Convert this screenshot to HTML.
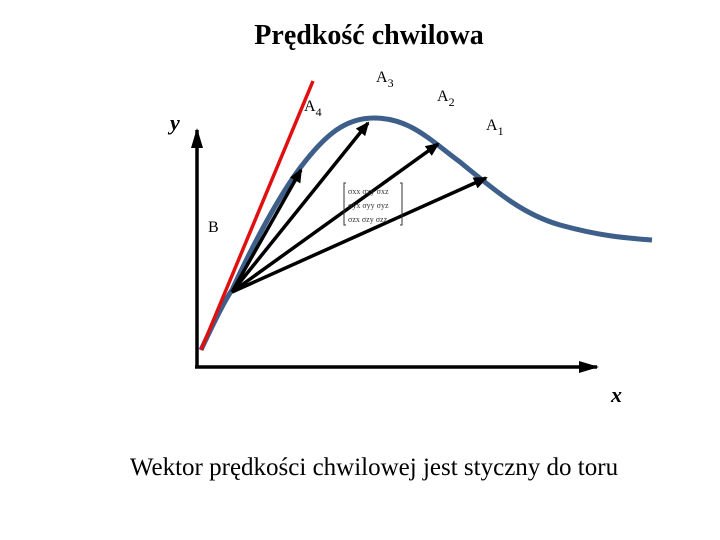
<!DOCTYPE html>
<html><head><meta charset="utf-8"><style>
body{margin:0;background:#fff;}
svg{display:block;font-family:"Liberation Serif",serif;}
</style></head><body>
<svg width="720" height="540" viewBox="0 0 720 540">
<defs>
<marker id="ah" markerWidth="14" markerHeight="12" refX="12" refY="6" orient="auto" markerUnits="userSpaceOnUse"><path d="M0,0 L14,6 L0,12 z" fill="#000"/></marker>
<marker id="ax" markerWidth="20" markerHeight="12" refX="18" refY="6" orient="auto" markerUnits="userSpaceOnUse"><path d="M0,0 L20,6 L0,12 z" fill="#000"/></marker>
</defs>
<text x="369" y="44" text-anchor="middle" font-size="28" font-weight="bold">Prędkość chwilowa</text>
<line x1="197" y1="367" x2="197" y2="130" stroke="#000" stroke-width="3.5" marker-end="url(#ax)"/>
<line x1="195" y1="367" x2="597" y2="367" stroke="#000" stroke-width="3.5" marker-end="url(#ax)"/>
<path d="M201,350 C215,320 225,300 232,290 C255,240 280,195 300,168 C325,135 345,118 374,118 C410,118 430,140 460,162 C500,195 525,215 560,225 C600,236 625,238 652,240" fill="none" stroke="#3d5f8a" stroke-width="5"/>
<line x1="201" y1="350" x2="313" y2="81" stroke="#e01010" stroke-width="3.5"/>
<g stroke="#000" stroke-width="3.5">
<line x1="232" y1="292" x2="301" y2="170" marker-end="url(#ah)"/>
<line x1="232" y1="292" x2="368" y2="123" marker-end="url(#ah)"/>
<line x1="232" y1="292" x2="438" y2="144" marker-end="url(#ah)"/>
<line x1="232" y1="292" x2="486" y2="178" marker-end="url(#ah)"/>
</g>
<g font-size="8" fill="#333">
<path d="M346,183 h-2 v42 h2 M400,183 h2 v42 h-2" stroke="#333" fill="none"/>
<text x="348" y="194">σxx σxy σxz</text>
<text x="348" y="208">σyx σyy σyz</text>
<text x="348" y="222">σzx σzy σzz</text>
</g>
<g font-size="16">
<text x="376" y="82">A<tspan dy="5" font-size="12">3</tspan></text>
<text x="437" y="101">A<tspan dy="5" font-size="12">2</tspan></text>
<text x="486" y="130">A<tspan dy="5" font-size="12">1</tspan></text>
<text x="304" y="111">A<tspan dy="5" font-size="12">4</tspan></text>
<text x="208" y="232">B</text>
</g>
<text x="170" y="130" font-size="22" font-style="italic" font-weight="bold">y</text>
<text x="611" y="402" font-size="22" font-style="italic" font-weight="bold">x</text>
<text x="374" y="475" text-anchor="middle" font-size="25">Wektor prędkości chwilowej jest styczny do toru</text>
</svg>
</body></html>
